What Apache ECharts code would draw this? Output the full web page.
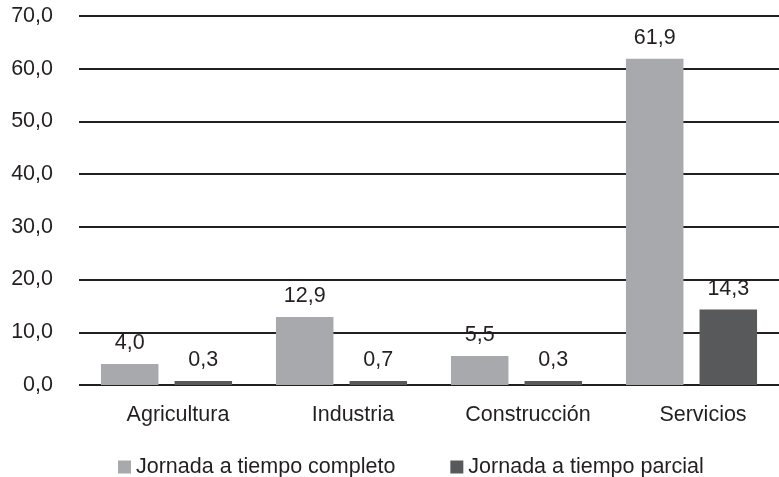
<!DOCTYPE html>
<html>
<head>
<meta charset="utf-8">
<script src="https://cdn.jsdelivr.net/npm/echarts@6/dist/echarts.min.js"></script>
<style>
html,body{margin:0;padding:0;background:#fff;}
#chart{width:779px;height:477px;}
</style>
</head>
<body>
<div id="chart"></div>
<script>
var categories = ['Agricultura', 'Industria', 'Construcción', 'Servicios'];
var seriesNames = ['Jornada a tiempo completo', 'Jornada a tiempo parcial'];
var completo = [4.0, 12.9, 5.5, 61.9];
var parcial = [0.3, 0.7, 0.3, 14.3];

var textColor = '#231f20';
var fontFamily = '"Liberation Sans", Arial, Helvetica, sans-serif';
var fs = 21.5;

function fmt(v) { return Number(v).toFixed(1).replace('.', ','); }

var chart = echarts.init(document.getElementById('chart'), null, {renderer: 'canvas'});
chart.setOption({
  animation: false,
  backgroundColor: '#ffffff',
  textStyle: {fontFamily: fontFamily, color: textColor},
  grid: {left: 79, right: -8, top: 16, bottom: 92, containLabel: false},
  legend: {
    left: 113,
    top: 451,
    icon: 'rect',
    itemWidth: 13,
    itemHeight: 13,
    itemGap: 55,
    textStyle: {fontSize: fs, color: textColor, fontFamily: fontFamily},
    data: seriesNames
  },
  xAxis: {
    type: 'category',
    data: categories,
    axisLine: {show: false},
    axisTick: {show: false},
    splitLine: {show: false},
    axisLabel: {
      fontSize: fs, color: textColor, fontFamily: fontFamily,
      margin: 19, padding: [0, 0, 0, 23], interval: 0
    }
  },
  yAxis: {
    type: 'value',
    min: 0, max: 70, interval: 10,
    axisLine: {show: false},
    axisTick: {show: false},
    splitLine: {show: true, lineStyle: {color: '#231f20', width: 2}},
    axisLabel: {
      fontSize: fs, color: textColor, fontFamily: fontFamily, margin: 26,
      formatter: function (v) { return fmt(v); }
    }
  },
  series: [
    {
      name: seriesNames[0], type: 'bar', data: completo,
      barWidth: 57.5, barGap: '28%', barMinHeight: 4,
      itemStyle: {color: '#a7a9ac'},
      label: {show: true, position: 'top', distance: 10, fontSize: fs, color: textColor, fontFamily: fontFamily,
        formatter: function (p) { return fmt(p.value); }}
    },
    {
      name: seriesNames[1], type: 'bar', data: parcial,
      barWidth: 57.5, barGap: '28%', barMinHeight: 4,
      itemStyle: {color: '#58595b'},
      label: {show: true, position: 'top', distance: 10, fontSize: fs, color: textColor, fontFamily: fontFamily,
        formatter: function (p) { return fmt(p.value); }}
    }
  ]
});
</script>
</body>
</html>
